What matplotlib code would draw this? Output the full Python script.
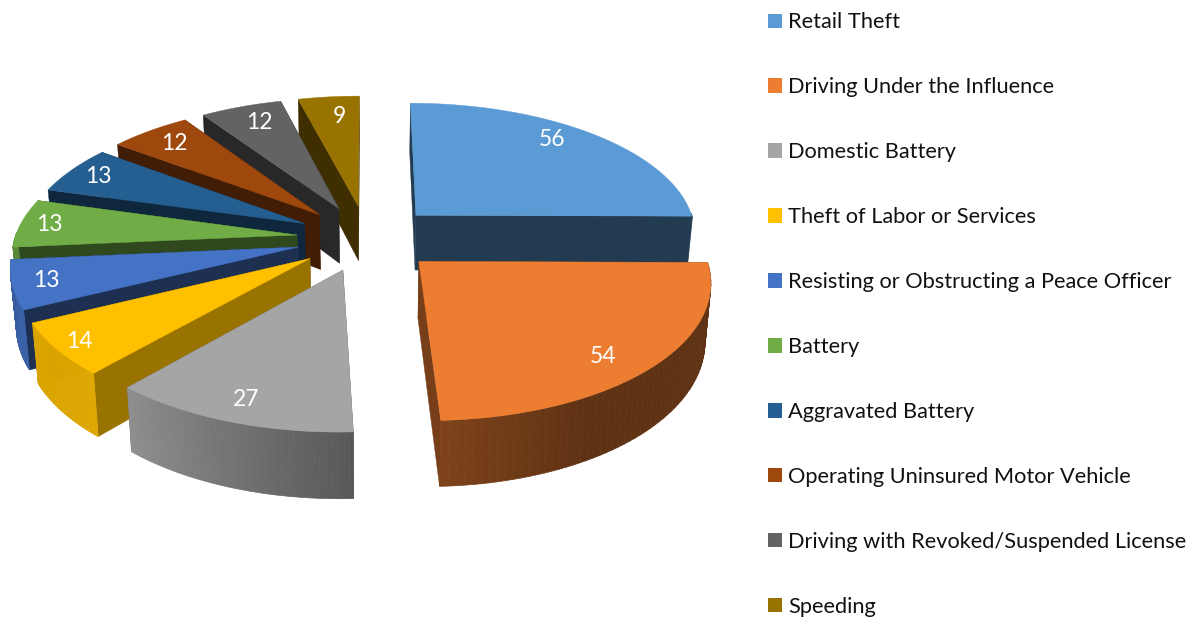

# Exploded 3D-style pie chart drawn from wedge polygons with a small perspective projection.
import numpy as np
import matplotlib
matplotlib.use("Agg")
import matplotlib.pyplot as plt
from matplotlib.collections import PolyCollection
from matplotlib.colors import to_rgb
from matplotlib.patches import Patch

categories = [
    "Retail Theft",
    "Driving Under the Influence",
    "Domestic Battery",
    "Theft of Labor or Services",
    "Resisting or Obstructing a Peace Officer",
    "Battery",
    "Aggravated Battery",
    "Operating Uninsured Motor Vehicle",
    "Driving with Revoked/Suspended License",
    "Speeding",
]
values = [56, 54, 27, 14, 13, 13, 13, 12, 12, 9]
colors = ["#5B9BD5", "#ED7D31", "#A5A5A5", "#FFC000", "#4472C4",
          "#70AD47", "#255E91", "#9E480E", "#636363", "#997300"]

# Projection settings, in pixels of the 1193x617 figure
CX, CY = 367, 238
RX, RY = 282, 132
EXPLODE = 0.25
PERSP = 0.129
DEPTH = 56
BOTTOM_SHRINK = 0.983


def project(x, y, bottom=False):
    s = 1.0 / (1.0 - PERSP * y)
    px = RX * x * s
    py = CY + RY * y * s
    if bottom:
        return CX + px * BOTTOM_SHRINK, py + DEPTH * s
    return CX + px, py


def shade(rgb, f):
    return tuple(min(1.0, c * f) for c in rgb)


def arc_shade(t):
    # outer wall brightness by the direction it faces
    return np.interp(np.degrees(t), [0, 150, 177, 221, 250, 360], [0.4, 0.4, 0.53, 0.87, 0.85, 0.5])


def cut_shade(t):
    # the flat cut faces are dark, only the one facing the front gets lighter
    return np.interp(np.degrees(t), [0, 90, 177, 221, 243, 360], [0.38, 0.38, 0.5, 0.6, 0.42, 0.4])


def label_pos(mid):
    # distance from the slice tip and a small turn, tuned by eye around the pie
    deg = np.degrees(mid)
    r = np.interp(deg, [45, 134, 199, 232, 254, 275, 296, 316, 336, 353],
                  [0.85, 0.85, 0.87, 0.92, 0.883, 0.895, 0.88, 0.84, 0.83, 0.80])
    turn = np.radians(np.interp(deg, [45, 134, 199, 316, 336, 353], [-5, 4, 0, 0, 1, 1.5]))
    x = EXPLODE * np.sin(mid) + r * np.sin(mid + turn)
    y = -EXPLODE * np.cos(mid) - r * np.cos(mid + turn)
    return project(x, y)


def draw_slice(ax, start, stop, color, order):
    rgb = to_rgb(color)
    mid = (start + stop) / 2
    ox, oy = EXPLODE * np.sin(mid), -EXPLODE * np.cos(mid)
    t = np.linspace(start, stop, 60)
    ux, uy = ox + np.sin(t), oy - np.cos(t)

    px, py = project(ox, oy)
    bx, by = project(ox, oy, True)

    # back-facing cut goes first
    ends = [(t[0], ux[0], uy[0]), (t[-1], ux[-1], uy[-1])]
    if mid > np.pi:
        ends.reverse()
    for a, end_x, end_y in ends:
        x0, y0 = project(end_x, end_y)
        x1, y1 = project(end_x, end_y, True)
        ax.fill([px, x0, x1, bx], [py, y0, y1, by], color=shade(rgb, cut_shade(a)),
                lw=0.3, zorder=order)

    tx, ty = project(ux, uy)
    wx, wy = project(ux, uy, True)
    keep = [i for i in range(len(t) - 1) if np.cos(t[i]) < 0.02]
    if keep:
        quads = [[(tx[i], ty[i]), (tx[i + 1], ty[i + 1]), (wx[i + 1], wy[i + 1]), (wx[i], wy[i])]
                 for i in keep]
        wall_colors = [shade(rgb, arc_shade(t[i])) for i in keep]
        ax.add_collection(PolyCollection(quads, facecolors=wall_colors, edgecolors=wall_colors,
                                         linewidths=0.5, zorder=order + 0.1))

    ax.fill(np.r_[px, tx], np.r_[py, ty], color=color, lw=0.3, zorder=order + 0.2)


def main():
    fig = plt.figure(figsize=(11.93, 6.17), dpi=100)
    plt.rcParams["font.family"] = ["Lato", "DejaVu Sans"]
    ax = fig.add_axes([0, 0, 1, 1])
    ax.set_xlim(0, 1193)
    ax.set_ylim(617, 0)
    ax.axis("off")

    fracs = np.array(values) / sum(values)
    edges = np.r_[0, np.cumsum(fracs)] * 2 * np.pi
    # back slices first, the big front ones last
    paint_order = [0, 9, 8, 7, 6, 5, 4, 3, 2, 1]
    for order, i in enumerate(paint_order):
        draw_slice(ax, edges[i], edges[i + 1], colors[i], order + 1)

    for i, v in enumerate(values):
        lx, ly = label_pos((edges[i] + edges[i + 1]) / 2)
        ax.text(lx, ly, str(v), color="white", fontsize=16.5, ha="center", va="center", zorder=30)

    handles = [Patch(facecolor=c, edgecolor="none") for c in colors]
    ax.legend(handles, categories, loc="upper left", bbox_to_anchor=(762.5 / 1193, 1 - 7 / 617),
              frameon=False, fontsize=15.7, handlelength=0.642, handleheight=0.642,
              handletextpad=0.275, labelspacing=2.06, borderpad=0.25, borderaxespad=0,
              labelcolor="#111111")

    fig.savefig("out.png", dpi=100)
    plt.close(fig)


if __name__ == "__main__":
    main()
